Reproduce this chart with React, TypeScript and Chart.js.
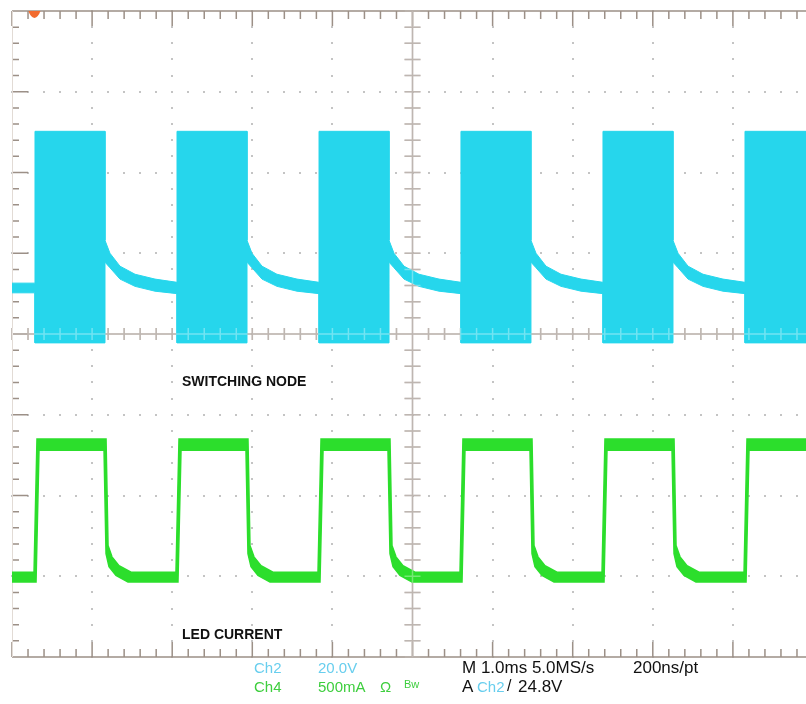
import { useEffect, useRef } from 'react';
import { Chart, registerables } from 'chart.js';

Chart.register(...registerables);

// ---- Data (time in ms at 1.0 ms/div, amplitude in screen divisions) ----
// Switching node (Ch2) envelope: shared time points, upper and lower edges of the trace band
const cyanTime = [0, 0.287, 0.287,
  1.161, 1.161, 1.223, 1.348, 1.536, 1.785, 2.060, 2.060,
  2.934, 2.934, 2.996, 3.121, 3.308, 3.558, 3.833, 3.833,
  4.707, 4.707, 4.769, 4.894, 5.081, 5.331, 5.605, 5.605,
  6.479, 6.479, 6.542, 6.667, 6.854, 7.104, 7.378, 7.378,
  8.252, 8.252, 8.315, 8.440, 8.627, 8.876, 9.151, 9.151,
  9.95];
const cyanUpper = [0.63, 0.63, 2.51,
  2.51, 1.16, 1.00, 0.84, 0.74, 0.68, 0.64, 2.51,
  2.51, 1.16, 1.00, 0.84, 0.74, 0.68, 0.64, 2.51,
  2.51, 1.16, 1.00, 0.84, 0.74, 0.68, 0.64, 2.51,
  2.51, 1.16, 1.00, 0.84, 0.74, 0.68, 0.64, 2.51,
  2.51, 1.16, 1.00, 0.84, 0.74, 0.68, 0.64, 2.51,
  2.51];
const cyanLower = [0.51, 0.51, -0.11,
  -0.11, 0.89, 0.82, 0.68, 0.59, 0.53, 0.50, -0.11,
  -0.11, 0.89, 0.82, 0.68, 0.59, 0.53, 0.50, -0.11,
  -0.11, 0.89, 0.82, 0.68, 0.59, 0.53, 0.50, -0.11,
  -0.11, 0.89, 0.82, 0.68, 0.59, 0.53, 0.50, -0.11,
  -0.11, 0.89, 0.82, 0.68, 0.59, 0.53, 0.50, -0.11,
  -0.11];

// LED current (Ch4) envelope
const greenUpperTime = [0, 0.275, 0.312,
  1.174, 1.199, 1.248, 1.336, 1.486, 2.047, 2.085,
  2.946, 2.971, 3.021, 3.109, 3.258, 3.820, 3.858,
  4.719, 4.744, 4.794, 4.881, 5.031, 5.593, 5.630,
  6.492, 6.517, 6.567, 6.654, 6.804, 7.366, 7.403,
  8.265, 8.290, 8.340, 8.427, 8.577, 9.139, 9.176,
  9.95];
const greenUpper = [-2.95, -2.95, -1.30,
  -1.30, -2.62, -2.76, -2.87, -2.95, -2.95, -1.30,
  -1.30, -2.62, -2.76, -2.87, -2.95, -2.95, -1.30,
  -1.30, -2.62, -2.76, -2.87, -2.95, -2.95, -1.30,
  -1.30, -2.62, -2.76, -2.87, -2.95, -2.95, -1.30,
  -1.30, -2.62, -2.76, -2.87, -2.95, -2.95, -1.30,
  -1.30];
const greenLowerTime = [0, 0.300, 0.337,
  1.149, 1.174, 1.211, 1.298, 1.448, 2.072, 2.110,
  2.921, 2.946, 2.984, 3.071, 3.221, 3.845, 3.883,
  4.694, 4.719, 4.757, 4.844, 4.994, 5.618, 5.655,
  6.467, 6.492, 6.529, 6.617, 6.767, 7.391, 7.428,
  8.240, 8.265, 8.302, 8.390, 8.539, 9.164, 9.201,
  9.95];
const greenLower = [-3.07, -3.07, -1.44,
  -1.44, -2.72, -2.88, -2.99, -3.07, -3.07, -1.44,
  -1.44, -2.72, -2.88, -2.99, -3.07, -3.07, -1.44,
  -1.44, -2.72, -2.88, -2.99, -3.07, -3.07, -1.44,
  -1.44, -2.72, -2.88, -2.99, -3.07, -3.07, -1.44,
  -1.44, -2.72, -2.88, -2.99, -3.07, -3.07, -1.44,
  -1.44];

// Graticule
const xDivisions = [0, 1, 2, 3, 4, 5, 6, 7, 8, 9, 10];
const yDivisions = [-4, -3, -2, -1, 0, 1, 2, 3, 4];
const subdivisions = 5;
const triggerTime = 0.28;

const CYAN = 'rgb(38,214,236)';
const GREEN = 'rgb(44,222,44)';
const TICK = '#9c9087';
const DOT = '#c4c4c4';

const pts = (xs: number[], ys: number[]) => xs.map((x, i) => ({ x, y: ys[i] }));

function drawCross(ctx: any, a: any, X: (v: number) => number, Y: (v: number) => number) {
  const yMin = yDivisions[0], yMax = yDivisions[yDivisions.length - 1];
  const xMin = xDivisions[0], xMax = xDivisions[xDivisions.length - 1];
  const cx = X(5), cy = Y(0);
  ctx.beginPath();
  ctx.moveTo(cx, a.top); ctx.lineTo(cx, a.bottom);
  ctx.moveTo(a.left, cy); ctx.lineTo(a.right, cy);
  for (let i = 0; i <= (xMax - xMin) * subdivisions; i++) {
    const px = X(xMin + i / subdivisions);
    ctx.moveTo(px, cy - 6); ctx.lineTo(px, cy + 6);
  }
  for (let i = 0; i <= (yMax - yMin) * subdivisions; i++) {
    const py = Y(yMin + i / subdivisions);
    ctx.moveTo(cx - 8, py); ctx.lineTo(cx + 8, py);
  }
  ctx.stroke();
}

const graticule = {
  id: 'graticule',
  beforeDatasetsDraw(chart: any) {
    const { ctx, chartArea: a, scales } = chart;
    const X = (v: number) => scales.x.getPixelForValue(v);
    const Y = (v: number) => scales.y.getPixelForValue(v);
    const yMin = yDivisions[0], yMax = yDivisions[yDivisions.length - 1];
    const xMin = xDivisions[0], xMax = xDivisions[xDivisions.length - 1];
    const xMid = 5, yMid = 0;
    ctx.save();
    // dotted grid
    ctx.fillStyle = DOT;
    for (const xv of xDivisions) {
      if (xv === xMin || xv === xMid || xv === xMax) continue;
      const px = Math.round(X(xv));
      for (let i = 0; i <= (yMax - yMin) * subdivisions; i++) {
        const py = Math.round(Y(yMin + i / subdivisions));
        ctx.fillRect(px - 1, py - 1, 2, 2);
      }
    }
    for (const yv of yDivisions) {
      if (yv === yMin || yv === yMid || yv === yMax) continue;
      const py = Math.round(Y(yv));
      for (let i = 0; i <= (xMax - xMin) * subdivisions; i++) {
        const px = Math.round(X(xMin + i / subdivisions));
        ctx.fillRect(px - 1, py - 1, 2, 2);
      }
    }
    ctx.strokeStyle = TICK;
    ctx.lineWidth = 1.5;
    drawCross(ctx, a, X, Y);
    ctx.beginPath();
    ctx.moveTo(a.left, a.top); ctx.lineTo(a.right, a.top);
    ctx.moveTo(a.left, a.bottom); ctx.lineTo(a.right, a.bottom);
    for (let i = 0; i <= (xMax - xMin) * subdivisions; i++) {
      const major = i % subdivisions === 0;
      const px = X(xMin + i / subdivisions);
      const len = major ? 15 : 8;
      ctx.moveTo(px, a.top); ctx.lineTo(px, a.top + len);
      ctx.moveTo(px, a.bottom); ctx.lineTo(px, a.bottom - len);
    }
    for (let i = 0; i <= (yMax - yMin) * subdivisions; i++) {
      const major = i % subdivisions === 0;
      const py = Y(yMin + i / subdivisions);
      const len = major ? 16 : 7;
      ctx.moveTo(a.left, py); ctx.lineTo(a.left + len, py);
    }
    ctx.stroke();
    ctx.strokeStyle = '#e2dbd5';
    ctx.lineWidth = 1;
    ctx.beginPath();
    ctx.moveTo(a.left + 0.5, a.top); ctx.lineTo(a.left + 0.5, a.bottom);
    ctx.stroke();
    ctx.restore();
  },
  afterDatasetsDraw(chart: any) {
    const { ctx, chartArea: a, scales } = chart;
    const X = (v: number) => scales.x.getPixelForValue(v);
    const Y = (v: number) => scales.y.getPixelForValue(v);
    ctx.save();
    // graticule faintly visible through the traces
    ctx.strokeStyle = 'rgba(255,255,255,0.35)';
    ctx.lineWidth = 1.5;
    drawCross(ctx, a, X, Y);
    // trigger position marker
    const tx = X(triggerTime);
    ctx.fillStyle = '#f26b2e';
    ctx.beginPath();
    ctx.moveTo(tx - 6, a.top);
    ctx.lineTo(tx + 6, a.top);
    ctx.quadraticCurveTo(tx + 4, a.top + 6, tx, a.top + 7);
    ctx.quadraticCurveTo(tx - 4, a.top + 6, tx - 6, a.top);
    ctx.fill();
    ctx.restore();
  },
};

export default function App() {
  const ref = useRef<HTMLCanvasElement | null>(null);

  useEffect(() => {
    document.body.style.margin = '0';
    if (!ref.current) return;
    const lineBase = { pointRadius: 0, borderWidth: 1, tension: 0 };
    const chart = new Chart(ref.current, {
      type: 'line',
      data: {
        datasets: [
          { ...lineBase, label: 'Ch2 upper', data: pts(cyanTime, cyanUpper), borderColor: CYAN, backgroundColor: CYAN, fill: false },
          { ...lineBase, label: 'Ch2 lower', data: pts(cyanTime, cyanLower), borderColor: CYAN, backgroundColor: CYAN, fill: '-1' },
          { ...lineBase, label: 'Ch4 upper', data: pts(greenUpperTime, greenUpper), borderColor: GREEN, backgroundColor: GREEN, fill: false, borderWidth: 1.5 },
          { ...lineBase, label: 'Ch4 lower', data: pts(greenLowerTime, greenLower), borderColor: GREEN, backgroundColor: GREEN, fill: '-1', borderWidth: 1.5 },
        ],
      },
      options: {
        animation: false,
        responsive: false,
        maintainAspectRatio: false,
        devicePixelRatio: 1,
        layout: { padding: { left: 12, top: 11, right: 0, bottom: 47 } },
        scales: {
          x: { type: 'linear', min: 0, max: 9.9126, display: false },
          y: { type: 'linear', min: -4, max: 4, display: false },
        },
        plugins: { legend: { display: false }, tooltip: { enabled: false } },
        elements: { line: { borderJoinStyle: 'miter' } },
      },
      plugins: [graticule],
    } as any);
    return () => chart.destroy();
  }, []);

  const font = '"Liberation Sans", Arial, sans-serif';
  const t = (x: number, yc: number, size: number, color: string, text: string, bold = false) => (
    <span
      style={{
        position: 'absolute', left: x, top: yc - size * 0.49, fontSize: size, lineHeight: 1,
        color, fontWeight: bold ? 700 : 400, whiteSpace: 'nowrap', fontFamily: font,
      }}
    >{text}</span>
  );
  const statusCyan = 'rgb(104,206,238)';
  const statusGreen = 'rgb(62,206,62)';

  return (
    <div style={{ position: 'relative', width: 806, height: 704, background: '#fff', overflow: 'hidden' }}>
      <canvas ref={ref} width={806} height={704} style={{ position: 'absolute', left: 0, top: 0, display: 'block' }} />
      {t(182, 381, 14, '#111', 'SWITCHING NODE', true)}
      {t(182, 634, 14, '#111', 'LED CURRENT', true)}
      {t(254, 667, 15, statusCyan, 'Ch2')}
      {t(318, 667, 15, statusCyan, '20.0V')}
      {t(462, 667, 17, '#111', 'M 1.0ms 5.0MS/s')}
      {t(633, 667, 17, '#111', '200ns/pt')}
      {t(254, 686, 15, statusGreen, 'Ch4')}
      {t(318, 686, 15, statusGreen, '500mA')}
      {t(380, 686, 15, statusGreen, 'Ω')}
      {t(404, 684, 11, statusGreen, 'Bw')}
      {t(462, 686, 17, '#111', 'A')}
      {t(477, 686, 15, statusCyan, 'Ch2')}
      {t(507, 686, 16, '#111', '/')}
      {t(518, 686, 17, '#111', '24.8V')}
    </div>
  );
}
